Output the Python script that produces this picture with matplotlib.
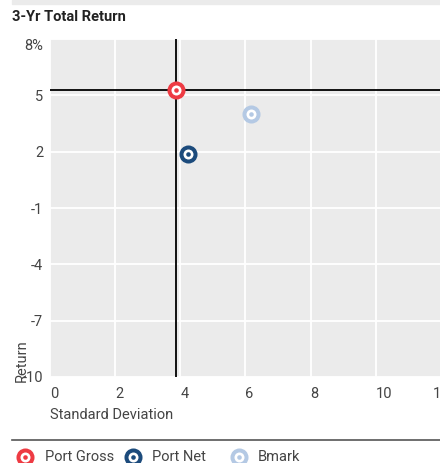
import matplotlib.pyplot as plt
from matplotlib.lines import Line2D
from matplotlib.patches import Rectangle

plt.rcParams['font.family'] = ['Roboto', 'DejaVu Sans']

# data
names = ['Port Gross', 'Port Net', 'Bmark']
std_dev = [3.87, 4.23, 6.17]
returns = [5.3, 1.9, 4.0]
colors = ['#ee3b43', '#1c4b7c', '#b4c9e4']

xticks = [0, 2, 4, 6, 8, 10, 12]
yticks = [-10, -7, -4, -1, 2, 5, 8]
ylabels = ['-10', '-7', '-4', '-1', '2', '5', '8%']

W, H = 440, 463
TXT = '#444444'
FS = 10.5

fig = plt.figure(figsize=(W / 100, H / 100), dpi=100)
ax = fig.add_axes([50 / W, 1 - 377 / H, 391 / W, 338 / H])
ax.set_facecolor('#ebebeb')
ax.set_xlim(0, 12)
ax.set_ylim(-10, 8)
for s in ax.spines.values():
    s.set_visible(False)

ax.set_xticks(xticks)
ax.set_xticklabels([str(t) for t in xticks], ha='left', fontsize=FS, color=TXT)
ax.xaxis.get_ticklabels()[-1].set_ha('center')
ax.set_yticks(yticks)
ax.set_yticklabels(ylabels, fontsize=FS, color=TXT)
ax.yaxis.get_ticklabels()[-1].set_va('top')
ax.tick_params(length=0)
ax.tick_params(axis='x', pad=7)
ax.tick_params(axis='y', pad=5)
ax.grid(True, color='white', linewidth=1.3)
ax.set_axisbelow(True)

# cross-hair lines at Port Gross
ax.axvline(std_dev[0], color='black', linewidth=1.3, zorder=2)
ax.axhline(returns[0], color='black', linewidth=1.3, zorder=2)


def ring(target, x, y, c, transform=None):
    kw = {} if transform is None else {'transform': transform}
    for size, col, z in [(13, c, 3), (7.2, 'white', 4), (3.3, c, 5)]:
        target.add_artist(Line2D([x], [y], marker='o', ls='', markersize=size,
                                 color=col, markeredgewidth=0, zorder=z, **kw))


for x, y, c in zip(std_dev, returns, colors):
    ring(ax, x, y, c, ax.transData)

ax.set_xlabel('Standard Deviation', fontsize=FS, color=TXT, loc='left', labelpad=5)
fig.text(22 / W, 1 - 382 / H, 'Return', rotation=90, ha='center', va='bottom',
         fontsize=FS, color=TXT)

# header
fig.patches.append(Rectangle((12 / W, 1 - 4 / H), (W - 12) / W, 4 / H,
                             transform=fig.transFigure, color='#ebebeb'))
fig.text(12 / W, 1 - 17 / H, '3-Yr Total Return', fontsize=10.5, fontweight='bold',
         va='center', ha='left', color='#222222')

# legend
fig.add_artist(Line2D([12 / W, 1], [1 - 440 / H, 1 - 440 / H],
                      transform=fig.transFigure, color='#555555', linewidth=1.2))
leg_marker_x = [25, 133, 239]
leg_text_x = [45, 152, 258]
leg_y = 1 - 457 / H
for name, c, mx, tx in zip(names, colors, leg_marker_x, leg_text_x):
    ring(fig, mx / W, leg_y, c, fig.transFigure)
    fig.text(tx / W, leg_y, name, fontsize=FS, color=TXT, va='center', ha='left')

fig.savefig('out.png', dpi=100)
